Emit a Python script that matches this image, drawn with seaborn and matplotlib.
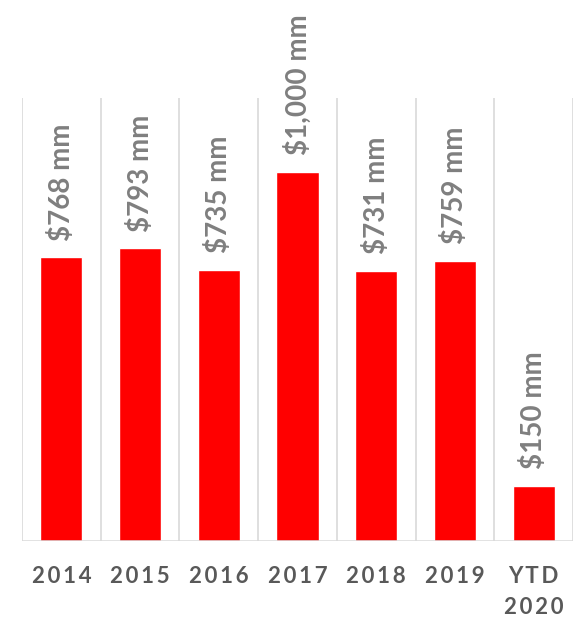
import matplotlib
matplotlib.use("Agg")
import matplotlib.pyplot as plt
from matplotlib import font_manager as fm
import seaborn as sns
import pandas as pd

categories = ["2014", "2015", "2016", "2017", "2018", "2019", "YTD\n2020"]
values = [768, 793, 735, 1000, 731, 759, 150]
labels = ["$768 mm", "$793 mm", "$735 mm", "$1,000 mm", "$731 mm", "$759 mm", "$150 mm"]

sns.set_theme(style="white")
plt.rcParams["font.family"] = ["Lato", "DejaVu Sans"]

lato = [f for f in fm.fontManager.ttflist if f.name == "Lato" and f.style == "normal"]
bold = [f for f in lato if f.weight == 700]
bold_path = None
for f in bold:
    n = f.fname.split("/")[-1].lower()
    if "bold" in n and "semi" not in n and "extra" not in n and "italic" not in n:
        bold_path = f.fname
        break
if bold_path is None and bold:
    bold_path = bold[0].fname

def fp(size):
    if bold_path:
        return fm.FontProperties(fname=bold_path, size=size)
    return fm.FontProperties(family="DejaVu Sans", weight="bold", size=size)

df = pd.DataFrame({"cat": categories, "val": values})

fig = plt.figure(figsize=(5.74, 6.19), dpi=100)
ax = fig.add_axes([22/574, 1 - 541/619, (573 - 22)/574, (541 - 98)/619])

sns.barplot(data=df, x="cat", y="val", color="#ff0000", saturation=1, width=0.535, ax=ax, zorder=3)

ax.set_ylim(0, 1200)
ax.set_xlim(-0.5, len(categories) - 0.5)
for i in range(len(categories) + 1):
    ax.axvline(i - 0.5, color="#d9d9d9", lw=1.2, zorder=1)
ax.axhline(0, color="#d9d9d9", lw=1.8, zorder=4)

for s in ax.spines.values():
    s.set_visible(False)
ax.set_yticks([])
ax.set_xlabel("")
ax.set_ylabel("")

ax.bar_label(ax.containers[0], labels=labels, rotation=90, padding=12,
             color="#7f7f7f", fontproperties=fp(20))

def spaced(s):
    return "\n".join("\u2009".join(list(line)) for line in s.split("\n"))

ax.set_xticks(range(len(categories)))
ax.set_xticklabels([spaced(c) for c in categories], fontproperties=fp(16),
                   color="#595959", linespacing=1.6)
ax.tick_params(axis="x", length=0, pad=18)

fig.savefig("out.png", dpi=100)
